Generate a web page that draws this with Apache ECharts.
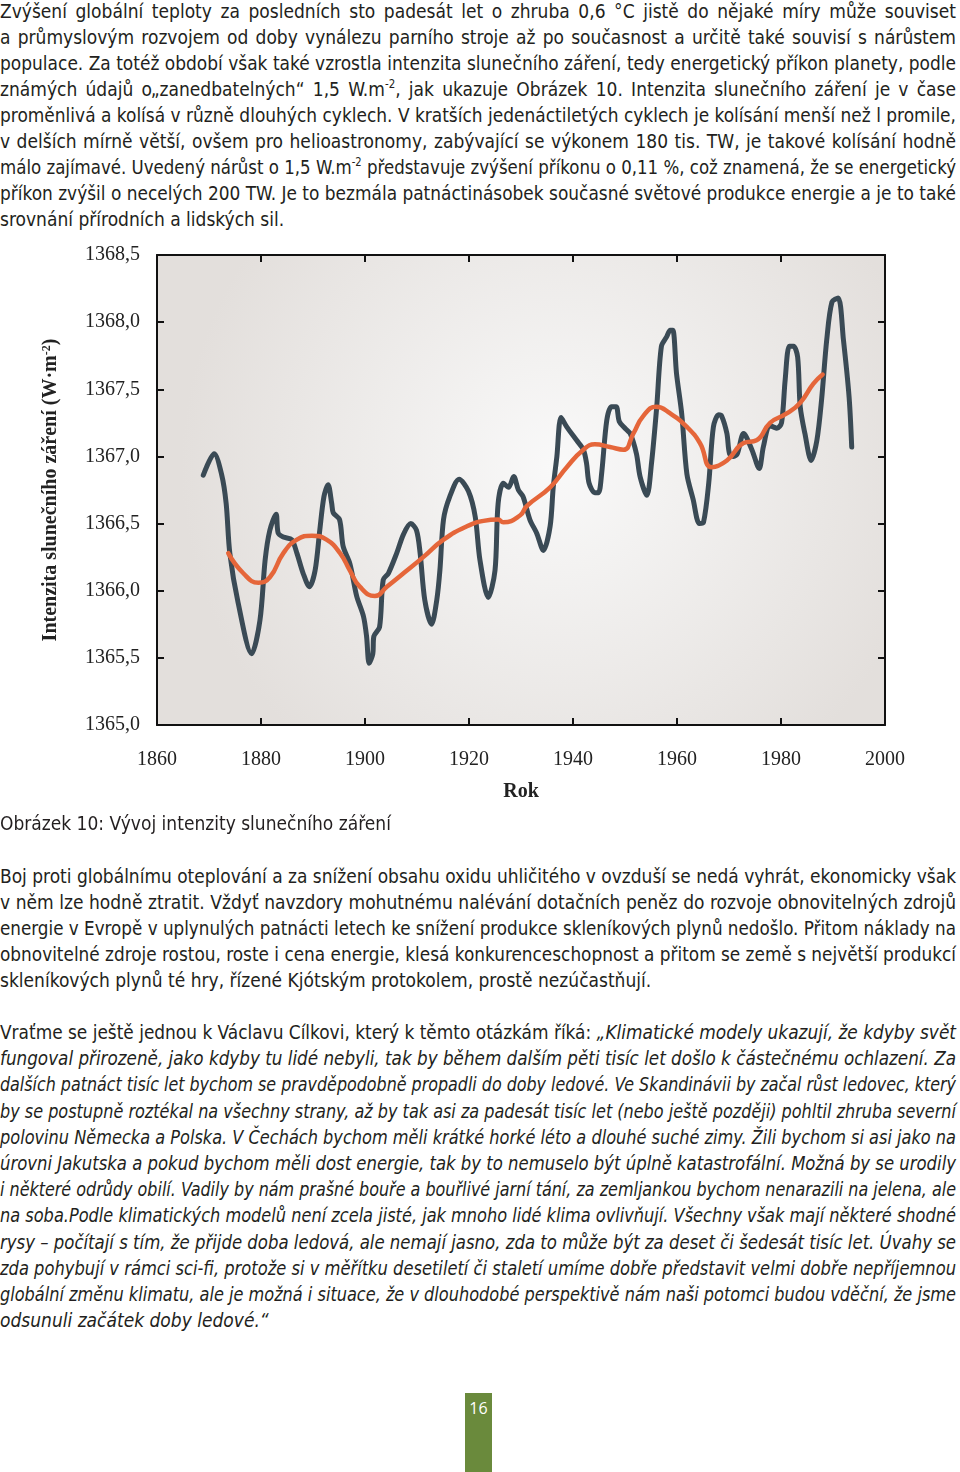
<!DOCTYPE html>
<html><head><meta charset="utf-8">
<script src="https://cdn.jsdelivr.net/npm/echarts@6/dist/echarts.min.js"></script>
<style>
html,body{margin:0;padding:0;background:#fff;width:960px;height:1472px;overflow:hidden;}
body{position:relative;font-family:"Liberation Sans Narrow","DejaVu Sans Condensed","Noto Sans",sans-serif;color:#231f20;}
.ln{position:absolute;left:0;height:26px;line-height:26px;font-size:19px;white-space:nowrap;transform-origin:0 0;}
.j{text-align:justify;text-align-last:justify;}
.ln sup{font-size:0.6em;line-height:0;vertical-align:0.7em;}
#chart{position:absolute;left:0;top:235px;width:960px;height:580px;}
#pg{position:absolute;left:465px;top:1393px;width:27px;height:79px;background:#6a8a3c;color:#fff;font-family:"Open Sans",sans-serif;font-size:16px;text-align:center;line-height:30px;}
</style></head><body>
<div id="chart"></div>
<div id="pg">16</div>
<script>
// ---- chart data ----
const yearTicks = [1860, 1880, 1900, 1920, 1940, 1960, 1980, 2000];
const valueTicks = [1365.0, 1365.5, 1366.0, 1366.5, 1367.0, 1367.5, 1368.0, 1368.5];
const irrYears = [1868.9,1871.0,1872.4,1873.3,1874.0,1875.6,1878.2,1879.8,1880.8,1881.7,1882.9,1883.3,1884.3,1885.9,1886.9,1888.1,1889.3,1890.4,1891.3,1892.1,1892.9,1893.6,1893.9,1895.1,1895.8,1897.1,1898.4,1899.7,1900.3,1900.8,1901.5,1901.7,1902.8,1903.5,1904.5,1906.1,1907.4,1908.8,1909.9,1910.6,1911.5,1912.8,1913.8,1914.4,1915.1,1916.3,1918.1,1919.9,1921.2,1922.1,1923.7,1925.0,1925.6,1926.6,1927.6,1928.6,1929.5,1930.4,1931.7,1933.0,1934.3,1935.6,1936.2,1936.9,1937.7,1938.8,1940.7,1942.0,1942.6,1943.1,1944.2,1944.9,1945.5,1946.5,1947.4,1948.3,1948.9,1950.0,1951.0,1952.2,1952.9,1954.2,1955.1,1956.1,1957.0,1958.0,1958.7,1959.2,1959.9,1960.9,1961.9,1963.1,1964.3,1965.1,1966.1,1967.0,1968.0,1968.6,1969.6,1970.1,1970.9,1971.6,1972.8,1974.4,1975.8,1976.6,1977.8,1978.5,1979.2,1980.1,1980.8,1981.6,1982.4,1983.2,1983.7,1984.6,1985.8,1986.9,1987.8,1988.8,1989.8,1991.0,1992.0,1993.1,1993.6];
const irrValues = [1366.86,1367.02,1366.87,1366.65,1366.28,1365.91,1365.53,1365.78,1366.23,1366.45,1366.57,1366.43,1366.40,1366.38,1366.28,1366.13,1366.03,1366.15,1366.45,1366.70,1366.79,1366.65,1366.58,1366.53,1366.33,1366.20,1365.96,1365.81,1365.66,1365.46,1365.53,1365.66,1365.73,1366.08,1366.13,1366.28,1366.42,1366.50,1366.45,1366.28,1365.93,1365.75,1365.93,1366.15,1366.53,1366.70,1366.83,1366.74,1366.55,1366.23,1365.95,1366.15,1366.65,1366.80,1366.77,1366.85,1366.75,1366.70,1366.53,1366.43,1366.30,1366.48,1366.77,1367.00,1367.29,1367.22,1367.12,1367.05,1366.95,1366.80,1366.73,1366.73,1366.87,1367.27,1367.37,1367.37,1367.26,1367.21,1367.17,1367.02,1366.85,1366.71,1366.95,1367.37,1367.82,1367.89,1367.94,1367.94,1367.62,1367.32,1366.87,1366.68,1366.50,1366.51,1366.80,1367.22,1367.31,1367.30,1367.17,1367.02,1367.00,1367.02,1367.17,1367.05,1366.91,1367.07,1367.23,1367.22,1367.21,1367.25,1367.57,1367.82,1367.82,1367.74,1367.37,1367.17,1366.97,1367.12,1367.42,1367.87,1368.15,1368.18,1367.87,1367.44,1367.07];
const trendYears = [1873.7,1876.6,1879.5,1881.7,1884.3,1886.9,1889.8,1892.6,1895.2,1897.1,1899.0,1901.9,1904.2,1907.4,1911.2,1915.1,1919.6,1922.8,1925.6,1926.6,1929.8,1931.1,1935.6,1938.8,1942.0,1944.2,1947.1,1949.7,1951.6,1953.5,1956.0,1958.7,1961.9,1964.4,1966.7,1969.6,1972.8,1975.3,1977.9,1981.1,1983.7,1986.2,1988.0];
const trendValues = [1366.28,1366.13,1366.06,1366.10,1366.28,1366.38,1366.41,1366.38,1366.28,1366.15,1366.03,1365.96,1366.03,1366.13,1366.25,1366.38,1366.48,1366.52,1366.53,1366.51,1366.56,1366.63,1366.77,1366.92,1367.05,1367.09,1367.07,1367.05,1367.17,1367.30,1367.37,1367.32,1367.22,1367.10,1366.92,1366.97,1367.10,1367.12,1367.25,1367.32,1367.40,1367.54,1367.61];
const yAxisTitle = 'Intenzita slunečního záření (W·m{sup|-2})';
const xAxisTitle = 'Rok';

// ---- text ----
const para1 = [
 'Zvýšení globální teploty za posledních sto padesát let o zhruba 0,6 °C jistě do nějaké míry může souviset',
 'a průmyslovým rozvojem od doby vynálezu parního stroje až po současnost a určitě také souvisí s nárůstem',
 'populace. Za totéž období však také vzrostla intenzita slunečního záření, tedy energetický příkon planety, podle',
 'známých údajů o„zanedbatelných“ 1,5 W.m<sup>-2</sup>, jak ukazuje Obrázek 10. Intenzita slunečního záření je v čase',
 'proměnlivá a kolísá v různě dlouhých cyklech. V kratších jedenáctiletých cyklech je kolísání menší než l promile,',
 'v delších mírně větší, ovšem pro helioastronomy, zabývající se výkonem 180 tis. TW, je takové kolísání hodně',
 'málo zajímavé. Uvedený nárůst o 1,5 W.m<sup>-2</sup> představuje zvýšení příkonu o 0,11 %, což znamená, že se energetický',
 'příkon zvýšil o necelých 200 TW. Je to bezmála patnáctinásobek současné světové produkce energie a je to také',
 'srovnání přírodních a lidských sil.'
];
const caption = ['Obrázek 10: Vývoj intenzity slunečního záření'];
const para2 = [
 'Boj proti globálnímu oteplování a za snížení obsahu oxidu uhličitého v ovzduší se nedá vyhrát, ekonomicky však',
 'v něm lze hodně ztratit. Vždyť navzdory mohutnému nalévání dotačních peněz do rozvoje obnovitelných zdrojů',
 'energie v Evropě v uplynulých patnácti letech ke snížení produkce skleníkových plynů nedošlo. Přitom náklady na',
 'obnovitelné zdroje rostou, roste i cena energie, klesá konkurenceschopnost a přitom se země s největší produkcí',
 'skleníkových plynů té hry, řízené Kjótským protokolem, prostě nezúčastňují.'
];
const para3 = [
 'Vraťme se ještě jednou k Václavu Cílkovi, který k těmto otázkám říká: <i>„Klimatické modely ukazují, že kdyby svět</i>',
 '<i>fungoval přirozeně, jako kdyby tu lidé nebyli, tak by během dalším pěti tisíc let došlo k částečnému ochlazení. Za</i>',
 '<i>dalších patnáct tisíc let bychom se pravděpodobně propadli do doby ledové. Ve Skandinávii by začal růst ledovec, který</i>',
 '<i>by se postupně roztékal na všechny strany, až by tak asi za padesát tisíc let (nebo ještě později) pohltil zhruba severní</i>',
 '<i>polovinu Německa a Polska. V Čechách bychom měli krátké horké léto a dlouhé suché zimy. Žili bychom si asi jako na</i>',
 '<i>úrovni Jakutska a pokud bychom měli dost energie, tak by to nemuselo být úplně katastrofální. Možná by se urodily</i>',
 '<i>i některé odrůdy obilí. Vadily by nám prašné bouře a bouřlivé jarní tání, za zemljankou bychom nenarazili na jelena, ale</i>',
 '<i>na soba.Podle klimatických modelů není zcela jisté, jak mnoho lidé klima ovlivňují. Všechny však mají některé shodné</i>',
 '<i>rysy – počítají s tím, že přijde doba ledová, ale nemají jasno, zda to může být za deset či šedesát tisíc let. Úvahy se</i>',
 '<i>zda pohybují v rámci sci-fi, protože si v měřítku desetiletí či staletí umíme dobře představit velmi dobře nepříjemnou</i>',
 '<i>globální změnu klimatu, ale je možná i situace, že v dlouhodobé perspektivě nám naši potomci budou vděční, že jsme</i>',
 '<i>odsunuli začátek doby ledové.“</i>'
];

const FULL = 956;
function addPara(lines, top, lh, justifyLast) {
  lines.forEach((html, i) => {
    const d = document.createElement('div');
    d.className = 'ln';
    d.style.top = (top + i * lh) + 'px';
    const s = document.createElement('span');
    s.innerHTML = html;
    d.appendChild(s);
    document.body.appendChild(d);
    const isLast = i === lines.length - 1;
    const w = s.getBoundingClientRect().width;
    if (!isLast || justifyLast) {
      d.classList.add('j');
      if (w > FULL) {
        d.style.width = w + 'px';
        d.style.transform = 'scaleX(' + (FULL / w) + ')';
      } else {
        d.style.width = FULL + 'px';
      }
    } else if (w > FULL) {
      d.style.transform = 'scaleX(' + (FULL / w) + ')';
    }
  });
}
addPara(para1, -2, 26, false);
addPara(caption, 810, 26, false);
addPara(para2, 863, 26, false);
addPara(para3, 1019, 26.2, false);

// ---- chart ----
const serif = '"Liberation Serif","DejaVu Serif",serif';
const fmt = v => Number(v).toFixed(1).replace('.', ',');
const chart = echarts.init(document.getElementById('chart'));
const axisLine = { show: true, lineStyle: { color: '#111', width: 2 } };
const tick = { show: true, inside: true, length: 7, lineStyle: { color: '#111', width: 2 } };
chart.setOption({
  animation: false,
  grid: {
    left: 157, right: 75, top: 20, bottom: 90, show: true, borderWidth: 0,
    backgroundColor: new echarts.graphic.RadialGradient(0.55, 0.45, 0.8, [
      { offset: 0, color: '#f9f9f9' }, { offset: 1, color: '#e3dfdc' }
    ])
  },
  xAxis: [{
    type: 'value', min: yearTicks[0], max: yearTicks[yearTicks.length - 1], interval: 20,
    axisLine, axisTick: tick, splitLine: { show: false },
    axisLabel: { margin: 25, fontFamily: serif, fontSize: 20, color: '#222', formatter: v => String(v) },
    name: xAxisTitle, nameLocation: 'middle', nameGap: 57,
    nameTextStyle: { fontFamily: serif, fontSize: 20, fontWeight: 'bold', color: '#222' }
  }, {
    type: 'value', position: 'top', min: yearTicks[0], max: yearTicks[yearTicks.length - 1], interval: 20,
    axisLine, axisTick: tick, axisLabel: { show: false }, splitLine: { show: false }
  }],
  yAxis: [{
    type: 'value', min: valueTicks[0], max: valueTicks[valueTicks.length - 1], interval: 0.5,
    axisLine, axisTick: tick, splitLine: { show: false },
    axisLabel: { margin: 17, fontFamily: serif, fontSize: 20, color: '#222', formatter: fmt, padding: [7, 0, 0, 0] },
    name: yAxisTitle, nameLocation: 'middle', nameGap: 96, nameRotate: 90,
    nameTextStyle: { fontFamily: serif, fontSize: 20, fontWeight: 'bold', color: '#222',
      rich: { sup: { fontFamily: serif, fontSize: 12, fontWeight: 'bold', color: '#222', verticalAlign: 'top', lineHeight: 12 } } }
  }, {
    type: 'value', position: 'right', min: valueTicks[0], max: valueTicks[valueTicks.length - 1], interval: 0.5,
    axisLine, axisTick: tick, axisLabel: { show: false }, splitLine: { show: false }
  }],
  series: [{
    type: 'line', data: irrYears.map((y, i) => [y, irrValues[i]]), showSymbol: false, smooth: 0.3,
    lineStyle: { color: '#3a4a55', width: 5, cap: 'round', join: 'round' }, z: 2
  }, {
    type: 'line', data: trendYears.map((y, i) => [y, trendValues[i]]), showSymbol: false, smooth: true,
    lineStyle: { color: '#e5663a', width: 4.5, cap: 'round', join: 'round' }, z: 3
  }]
});
</script>
</body></html>
